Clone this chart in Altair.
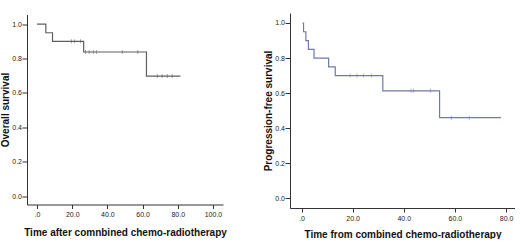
import altair as alt
import pandas as pd

# Overall survival (left)
os_time = [0.0, 5.0, 8.8, 26.5, 62.2, 81.5]
os_surv = [1.0, 0.95, 0.90, 0.838, 0.698, 0.698]
os_cens_time = [19.5, 21.4, 24.8, 27.6, 29.6, 32.0, 33.7, 48.4, 57.3, 68.3, 71.1, 74.0, 76.8]
os_cens_surv = [0.90, 0.90, 0.90, 0.838, 0.838, 0.838, 0.838, 0.838, 0.838, 0.698, 0.698, 0.698, 0.698]

# Progression-free survival (right)
pfs_time = [0.4, 0.8, 1.7, 2.7, 4.9, 10.6, 13.2, 31.8, 54.0, 78.0]
pfs_surv = [1.0, 0.95, 0.90, 0.85, 0.80, 0.75, 0.70, 0.613, 0.46, 0.46]
pfs_cens_time = [19.0, 21.7, 24.3, 27.3, 42.8, 43.8, 50.4, 58.6, 65.6]
pfs_cens_surv = [0.70, 0.70, 0.70, 0.70, 0.613, 0.613, 0.613, 0.46, 0.46]

os_ticks = [0, 20, 40, 60, 80, 100]
pfs_ticks = [0, 20, 40, 60, 80]
y_ticks = [0.0, 0.2, 0.4, 0.6, 0.8, 1.0]

label_expr = "datum.value == 0 ? '.0' : format(datum.value, '.1f')"
ylabel_expr = "format(datum.value, '.1f')"

FONT = "Liberation Sans"


def km_panel(t, s, ct, cs, xdom, ydom, xticks, xtitle, ytitle, color, w, h, xtp):
    line_df = pd.DataFrame({"t": t, "s": s})
    cens_df = pd.DataFrame({"t": ct, "s": cs})
    xscale = alt.Scale(domain=xdom, nice=False, zero=False)
    yscale = alt.Scale(domain=ydom, nice=False, zero=False)
    xaxis = alt.Axis(values=xticks, labelExpr=label_expr, title=xtitle, tickSize=4,
                     labelPadding=2, titlePadding=xtp, labelOverlap=False, labelFlush=False)
    yaxis = alt.Axis(values=y_ticks, labelExpr=ylabel_expr, title=ytitle, tickSize=5,
                     labelPadding=0.5, titlePadding=1, labelOverlap=False, labelFlush=False)
    line = alt.Chart(line_df).mark_line(interpolate="step-after", color=color, strokeWidth=1.2).encode(
        x=alt.X("t:Q", scale=xscale, axis=xaxis),
        y=alt.Y("s:Q", scale=yscale, axis=yaxis),
    )
    cens = alt.Chart(cens_df).mark_tick(orient="vertical", size=4, thickness=0.8, color=color).encode(
        x=alt.X("t:Q", scale=xscale, axis=xaxis),
        y=alt.Y("s:Q", scale=yscale, axis=yaxis),
    )
    return alt.layer(line, cens).properties(width=w, height=h)


left = km_panel(os_time, os_surv, os_cens_time, os_cens_surv,
                [-5.7, 105.7], [-0.048, 1.056], os_ticks,
                "Time after comnbined chemo-radiotherapy", "Overall survival",
                "#5e5e5e", 196, 190, 10)
right = km_panel(pfs_time, pfs_surv, pfs_cens_time, pfs_cens_surv,
                 [-4.5, 83.5], [-0.055, 1.057], pfs_ticks,
                 "Time from combined chemo-radiotherapy", "Progression-free survival",
                 "#6f78a8", 225, 195, 8)

chart = alt.hconcat(left, right, spacing=36, center=True).properties(
    padding={"left": 0, "top": 13, "right": 0, "bottom": 0},
    background="white",
).configure_view(stroke=None).configure_axis(
    grid=False, labelFontSize=7, titleFontSize=10, titleFontWeight="bold",
    domainColor="#333", tickColor="#333", labelColor="#222", titleColor="#111",
    labelFont=FONT, titleFont=FONT, labelOverlap=False, labelFlush=False
)

chart.save("out.html", embed_options={"renderer": "svg", "actions": False})
